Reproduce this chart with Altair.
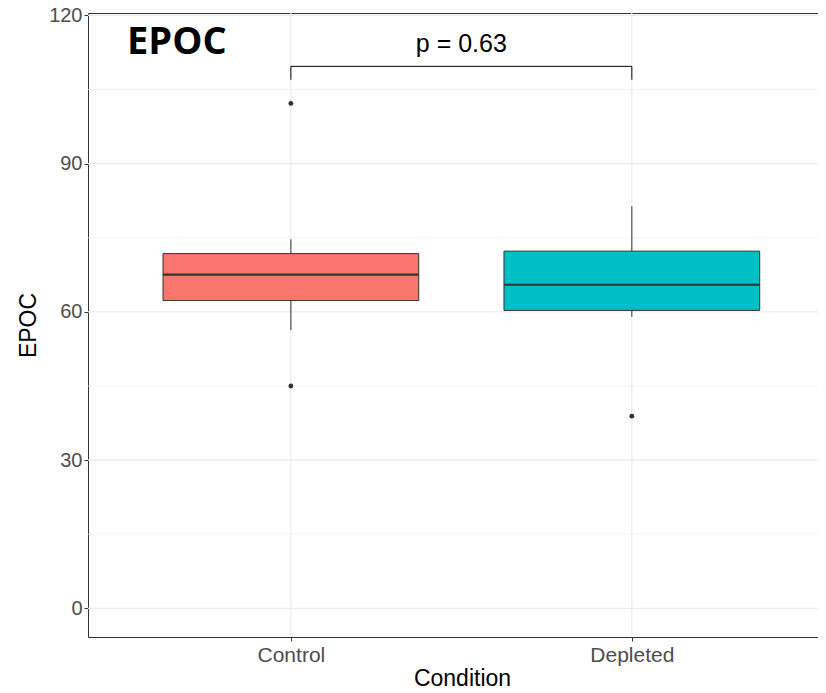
import altair as alt
import pandas as pd

# ---- data ----
conditions = ["Control", "Depleted"]
positions = [1, 2]
whisker_low = [56.3, 59.0]
q1 = [62.3, 60.3]
median = [67.55, 65.5]
q3 = [71.8, 72.3]
whisker_high = [74.7, 81.4]
fill_colors = ["#F8766D", "#00BFC4"]

outlier_condition = ["Control", "Control", "Depleted"]
outlier_pos = [1, 1, 2]
outlier_value = [102.2, 45.0, 38.9]

p_label = "p = 0.63"
bracket_y = 109.7
bracket_tip = 107.0
p_text_y = 112.7

major_ticks = [0, 30, 60, 90, 120]
minor_ticks = [15, 45, 75, 105]
y_domain = [-5.8, 120.5]
x_domain = [0.405, 2.546]

boxes = pd.DataFrame({
    "Condition": conditions, "pos": positions, "lo": whisker_low, "q1": q1,
    "med": median, "q3": q3, "hi": whisker_high,
})
outs = pd.DataFrame({"Condition": outlier_condition, "pos": outlier_pos, "EPOC": outlier_value})
grid_major = pd.DataFrame({"v": major_ticks})
grid_minor = pd.DataFrame({"v": minor_ticks})
vgrid = pd.DataFrame({"pos": positions})
bracket = pd.DataFrame({"x1": [positions[0]], "x2": [positions[1]], "y": [bracket_y],
                        "tip": [bracket_tip], "ty": [p_text_y], "label": [p_label]})

FONT = "Liberation Sans"
xs = alt.Scale(domain=x_domain, nice=False, zero=False)
ys = alt.Scale(domain=y_domain, nice=False, zero=False)

label_expr = " : ".join(
    [f"datum.value == {p} ? '{c}'" for p, c in zip(positions, conditions)]) + " : ''"

x_axis = alt.Axis(values=positions, labelExpr=label_expr, title="Condition", grid=False,
                  labelFontSize=21, labelColor="#4D4D4D", labelFont=FONT, labelPadding=3,
                  tickColor="#333333", tickSize=4, domainColor="#333333", domainWidth=1,
                  titleFontSize=23, titleFont=FONT, titleFontWeight="normal",
                  titleColor="#000000", titleX=374, titleY=30, titleBaseline="top")
y_axis = alt.Axis(values=major_ticks, title="EPOC", grid=False,
                  labelFontSize=20, labelColor="#4D4D4D", labelFont=FONT, labelPadding=2,
                  tickColor="#333333", tickSize=4, domainColor="#333333", domainWidth=1,
                  titleFontSize=23, titleFont=FONT, titleFontWeight="normal",
                  titleColor="#000000", titlePadding=8)

X = lambda f: alt.X(f, scale=xs, axis=None)
Y = lambda f: alt.Y(f, scale=ys, axis=y_axis)

gmaj = alt.Chart(grid_major).mark_rule(color="#EBEBEB", strokeWidth=1.2).encode(
    y=Y("v:Q"))
gmin = alt.Chart(grid_minor).mark_rule(color="#F1F1F1", strokeWidth=0.8).encode(
    y=Y("v:Q"))
gv = alt.Chart(vgrid).mark_rule(color="#EBEBEB", strokeWidth=1.2).encode(
    x=alt.X("pos:Q", scale=xs, axis=x_axis))

base = alt.Chart(boxes)
w_lo = base.mark_rule(color="#333333", strokeWidth=1).encode(
    x=X("pos:Q"), y=Y("lo:Q"), y2="q1:Q")
w_hi = base.mark_rule(color="#333333", strokeWidth=1).encode(
    x=X("pos:Q"), y=Y("q3:Q"), y2="hi:Q")
box = base.transform_calculate(
    xl="datum.pos - 0.375", xr="datum.pos + 0.375").mark_bar(
    stroke="#333333", strokeWidth=1).encode(
    x=X("xl:Q"), x2="xr:Q", y=Y("q1:Q"), y2="q3:Q",
    fill=alt.Fill("Condition:N", scale=alt.Scale(domain=conditions, range=fill_colors),
                  legend=None))
med = base.transform_calculate(
    xl="datum.pos - 0.375", xr="datum.pos + 0.375").mark_rule(
    color="#333333", strokeWidth=2.2).encode(
    x=X("xl:Q"), x2="xr:Q", y=Y("med:Q"))

pts = alt.Chart(outs).mark_circle(color="#333333", size=24, opacity=1).encode(
    x=X("pos:Q"), y=Y("EPOC:Q"))

bb = alt.Chart(bracket)
b_h = bb.mark_rule(color="#000000", strokeWidth=1).encode(
    x=X("x1:Q"), x2="x2:Q", y=Y("y:Q"))
b_l = bb.mark_rule(color="#000000", strokeWidth=1).encode(
    x=X("x1:Q"), y=Y("tip:Q"), y2="y:Q")
b_r = bb.mark_rule(color="#000000", strokeWidth=1).encode(
    x=X("x2:Q"), y=Y("tip:Q"), y2="y:Q")
b_t = bb.transform_calculate(xm="(datum.x1 + datum.x2) / 2").mark_text(
    fontSize=25, font=FONT, color="#000000", align="center", baseline="alphabetic").encode(
    x=X("xm:Q"), y=Y("ty:Q"), text="label:N")

tag = alt.Chart(pd.DataFrame({"t": ["EPOC"]})).mark_text(
    fontSize=38, font="Open Sans", fontWeight="bold", color="#000000",
    align="left", baseline="alphabetic").encode(
    x=alt.value(39), y=alt.value(41), text="t:N")

top_border = alt.Chart(vgrid).mark_rule(opacity=0).encode(
    x=alt.X("pos:Q", scale=xs, axis=alt.Axis(orient="top", labels=False, ticks=False,
                                            grid=False, title=None, domainColor="#333333",
                                            domainWidth=1)))

chart = alt.layer(
    gmin, gmaj, gv, w_lo, w_hi, box, med, pts, b_h, b_l, b_r, b_t, tag, top_border
).resolve_axis(x="independent").properties(
    width=730, height=624,
    autosize=alt.AutoSizeParams(type="none"),
    padding={"left": 80, "top": 5, "right": 0, "bottom": 56},
    background="white",
).configure_view(stroke=None)

chart.save("out.html", embed_options={"renderer": "svg", "actions": False})
